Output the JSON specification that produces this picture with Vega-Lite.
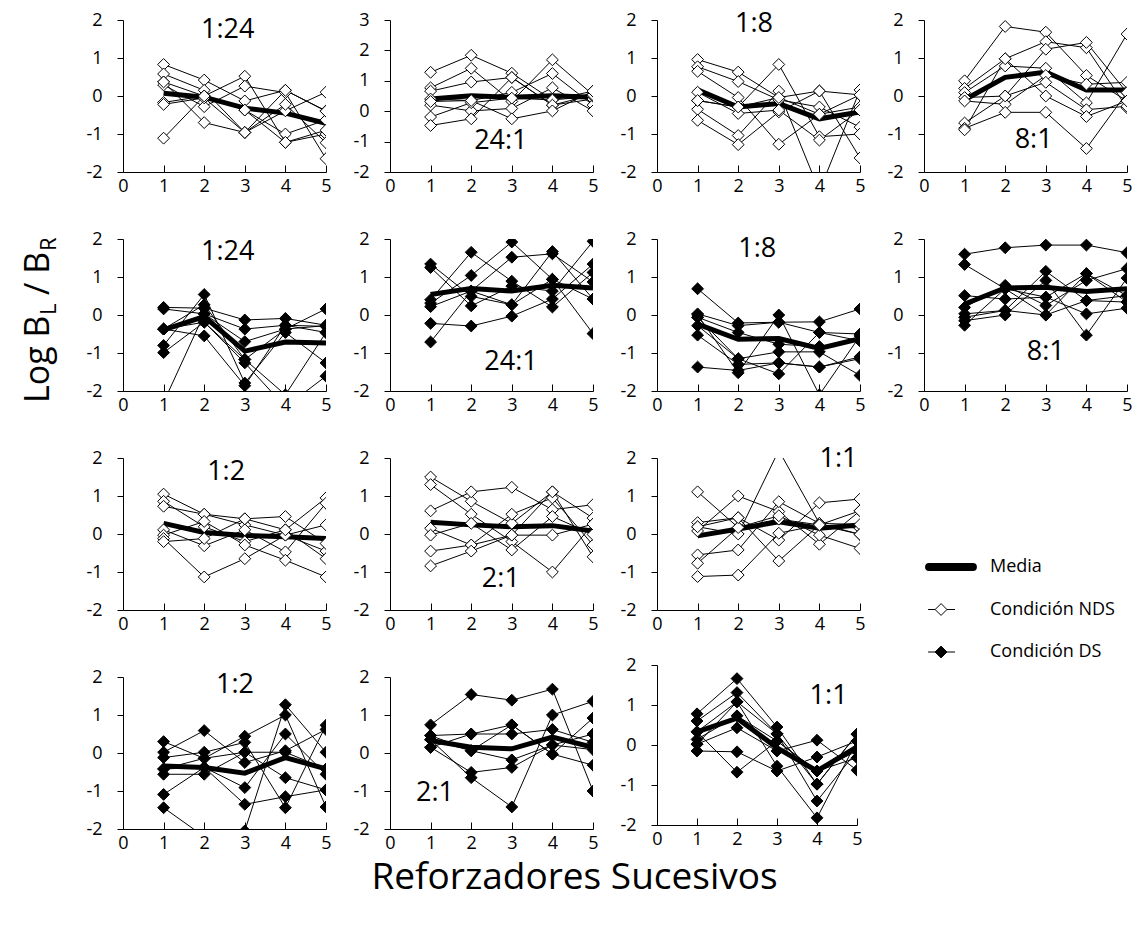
{
"$schema":"https://vega.github.io/schema/vega-lite/v6.json",
"background":"white",
"padding":{"left":17,"top":10,"right":5,"bottom":8},
"title":{"text":"Reforzadores Sucesivos","orient":"bottom","anchor":"middle","fontSize":37,"font":"Open Sans","fontWeight":"normal","color":"black","offset":8},
"datasets":{
"A":[
{"s":"a","x":1,"y":0.83},{"s":"a","x":2,"y":0.42},{"s":"a","x":3,"y":-0.13},{"s":"a","x":4,"y":0.15},{"s":"a","x":5,"y":-0.39},
{"s":"b","x":1,"y":0.58},{"s":"b","x":2,"y":0.15},{"s":"b","x":3,"y":-0.96},{"s":"b","x":4,"y":-0.39},{"s":"b","x":5,"y":0.1},
{"s":"c","x":1,"y":0.37},{"s":"c","x":2,"y":0},{"s":"c","x":3,"y":0.52},{"s":"c","x":4,"y":-1.22},{"s":"c","x":5,"y":-1},
{"s":"d","x":1,"y":0.29},{"s":"d","x":2,"y":-0.28},{"s":"d","x":3,"y":0.26},{"s":"d","x":4,"y":0.09},{"s":"d","x":5,"y":-1.65},
{"s":"e","x":1,"y":-0.17},{"s":"e","x":2,"y":0},{"s":"e","x":3,"y":-0.37},{"s":"e","x":4,"y":-1},{"s":"e","x":5,"y":-0.63},
{"s":"f","x":1,"y":-0.22},{"s":"f","x":2,"y":-0.05},{"s":"f","x":3,"y":-0.96},{"s":"f","x":4,"y":-0.22},{"s":"f","x":5,"y":-1.23},
{"s":"g","x":1,"y":-1.11},{"s":"g","x":2,"y":0},{"s":"g","x":3,"y":-0.37},{"s":"g","x":4,"y":-1.22},{"s":"g","x":5,"y":-0.9},
{"s":"h","x":1,"y":0.37},{"s":"h","x":2,"y":-0.7},{"s":"h","x":3,"y":-0.96},{"s":"h","x":4,"y":0.15},{"s":"h","x":5,"y":-0.4},
{"s":"m","x":1,"y":0.07},{"s":"m","x":2,"y":-0.03},{"s":"m","x":3,"y":-0.32},{"s":"m","x":4,"y":-0.45},{"s":"m","x":5,"y":-0.72}],
"B":[
{"s":"a","x":1,"y":1.28},{"s":"a","x":2,"y":1.84},{"s":"a","x":3,"y":1.25},{"s":"a","x":4,"y":0.37},{"s":"a","x":5,"y":0.66},
{"s":"b","x":1,"y":0.77},{"s":"b","x":2,"y":1.41},{"s":"b","x":3,"y":0.32},{"s":"b","x":4,"y":1.69},{"s":"b","x":5,"y":0.54},
{"s":"c","x":1,"y":0.66},{"s":"c","x":2,"y":0.96},{"s":"c","x":3,"y":1.11},{"s":"c","x":4,"y":0.2},{"s":"c","x":5,"y":0.4},
{"s":"d","x":1,"y":0.4},{"s":"d","x":2,"y":0.35},{"s":"d","x":3,"y":0.62},{"s":"d","x":4,"y":1.24},{"s":"d","x":5,"y":0.2},
{"s":"e","x":1,"y":0.2},{"s":"e","x":2,"y":0.01},{"s":"e","x":3,"y":0.09},{"s":"e","x":4,"y":0.77},{"s":"e","x":5,"y":0.01},
{"s":"f","x":1,"y":-0.19},{"s":"f","x":2,"y":0.28},{"s":"f","x":3,"y":0.43},{"s":"f","x":4,"y":0.37},{"s":"f","x":5,"y":0.49},
{"s":"g","x":1,"y":-0.47},{"s":"g","x":2,"y":-0.25},{"s":"g","x":3,"y":1.11},{"s":"g","x":4,"y":0.2},{"s":"g","x":5,"y":0.54},
{"s":"h","x":1,"y":0.32},{"s":"h","x":2,"y":0.35},{"s":"h","x":3,"y":-0.25},{"s":"h","x":4,"y":0.01},{"s":"h","x":5,"y":0.66},
{"s":"m","x":1,"y":0.4},{"s":"m","x":2,"y":0.51},{"s":"m","x":3,"y":0.46},{"s":"m","x":4,"y":0.51},{"s":"m","x":5,"y":0.46}],
"C":[
{"s":"a","x":1,"y":0.96},{"s":"a","x":2,"y":0.63},{"s":"a","x":3,"y":-0.04},{"s":"a","x":4,"y":0.13},{"s":"a","x":5,"y":0.03},
{"s":"b","x":1,"y":0.77},{"s":"b","x":2,"y":0.38},{"s":"b","x":3,"y":-0.1},{"s":"b","x":4,"y":-0.29},{"s":"b","x":5,"y":-0.82},
{"s":"c","x":1,"y":0.65},{"s":"c","x":2,"y":-0.04},{"s":"c","x":3,"y":-1.27},{"s":"c","x":4,"y":-0.48},{"s":"c","x":5,"y":-0.29},
{"s":"d","x":1,"y":-0.12},{"s":"d","x":2,"y":-0.29},{"s":"d","x":3,"y":0.83},{"s":"d","x":4,"y":-1.07},{"s":"d","x":5,"y":-1},
{"s":"e","x":1,"y":-0.35},{"s":"e","x":2,"y":-1.04},{"s":"e","x":3,"y":0.13},{"s":"e","x":4,"y":-2.5},{"s":"e","x":5,"y":0.16},
{"s":"f","x":1,"y":-0.64},{"s":"f","x":2,"y":-1.28},{"s":"f","x":3,"y":-0.42},{"s":"f","x":4,"y":0.13},{"s":"f","x":5,"y":-1.63},
{"s":"g","x":1,"y":0.1},{"s":"g","x":2,"y":-0.46},{"s":"g","x":3,"y":-0.37},{"s":"g","x":4,"y":-1.16},{"s":"g","x":5,"y":-0.37},
{"s":"h","x":1,"y":-0.12},{"s":"h","x":2,"y":-0.29},{"s":"h","x":3,"y":-0.04},{"s":"h","x":4,"y":-0.48},{"s":"h","x":5,"y":0.03},
{"s":"m","x":1,"y":0.16},{"s":"m","x":2,"y":-0.29},{"s":"m","x":3,"y":-0.2},{"s":"m","x":4,"y":-0.6},{"s":"m","x":5,"y":-0.42}],
"D":[
{"s":"a","x":1,"y":0.4},{"s":"a","x":2,"y":1.83},{"s":"a","x":3,"y":1.68},{"s":"a","x":4,"y":0.54},{"s":"a","x":5,"y":-0.13},
{"s":"b","x":1,"y":0.2},{"s":"b","x":2,"y":0.98},{"s":"b","x":3,"y":1.43},{"s":"b","x":4,"y":1.27},{"s":"b","x":5,"y":-0.31},
{"s":"c","x":1,"y":0.09},{"s":"c","x":2,"y":0.79},{"s":"c","x":3,"y":0.73},{"s":"c","x":4,"y":-0.18},{"s":"c","x":5,"y":1.63},
{"s":"d","x":1,"y":-0.04},{"s":"d","x":2,"y":0},{"s":"d","x":3,"y":1.23},{"s":"d","x":4,"y":1.41},{"s":"d","x":5,"y":0.09},
{"s":"e","x":1,"y":-0.13},{"s":"e","x":2,"y":-0.22},{"s":"e","x":3,"y":0.54},{"s":"e","x":4,"y":0.31},{"s":"e","x":5,"y":0.36},
{"s":"f","x":1,"y":-0.71},{"s":"f","x":2,"y":0},{"s":"f","x":3,"y":0.36},{"s":"f","x":4,"y":-0.36},{"s":"f","x":5,"y":-0.27},
{"s":"g","x":1,"y":-0.85},{"s":"g","x":2,"y":-0.43},{"s":"g","x":3,"y":-0.43},{"s":"g","x":4,"y":-1.38},{"s":"g","x":5,"y":0.09},
{"s":"h","x":1,"y":-0.89},{"s":"h","x":2,"y":0.98},{"s":"h","x":3,"y":0},{"s":"h","x":4,"y":-0.54},{"s":"h","x":5,"y":-0.13},
{"s":"m","x":1,"y":-0.1},{"s":"m","x":2,"y":0.49},{"s":"m","x":3,"y":0.63},{"s":"m","x":4,"y":0.16},{"s":"m","x":5,"y":0.16}],
"E":[
{"s":"a","x":1,"y":0.2},{"s":"a","x":2,"y":0.18},{"s":"a","x":3,"y":-0.13},{"s":"a","x":4,"y":-0.09},{"s":"a","x":5,"y":-0.27},
{"s":"b","x":1,"y":0.16},{"s":"b","x":2,"y":0.03},{"s":"b","x":3,"y":-0.37},{"s":"b","x":4,"y":-0.27},{"s":"b","x":5,"y":-0.46},
{"s":"c","x":1,"y":-0.37},{"s":"c","x":2,"y":0.27},{"s":"c","x":3,"y":-1.17},{"s":"c","x":4,"y":-0.37},{"s":"c","x":5,"y":-0.28},
{"s":"d","x":1,"y":-0.8},{"s":"d","x":2,"y":0.54},{"s":"d","x":3,"y":-1.79},{"s":"d","x":4,"y":-0.46},{"s":"d","x":5,"y":-1.26},
{"s":"e","x":1,"y":-0.99},{"s":"e","x":2,"y":-0.19},{"s":"e","x":3,"y":-1.26},{"s":"e","x":4,"y":-2.42},{"s":"e","x":5,"y":-1.61},
{"s":"f","x":1,"y":-2.3},{"s":"f","x":2,"y":0.03},{"s":"f","x":3,"y":-0.7},{"s":"f","x":4,"y":-0.37},{"s":"f","x":5,"y":0.16},
{"s":"g","x":1,"y":-0.37},{"s":"g","x":2,"y":-0.55},{"s":"g","x":3,"y":-1.86},{"s":"g","x":4,"y":-0.27},{"s":"g","x":5,"y":-0.3},
{"s":"h","x":1,"y":-0.37},{"s":"h","x":2,"y":-0.19},{"s":"h","x":3,"y":-1.17},{"s":"h","x":4,"y":-2.1},{"s":"h","x":5,"y":-0.46},
{"s":"m","x":1,"y":-0.39},{"s":"m","x":2,"y":-0.04},{"s":"m","x":3,"y":-0.95},{"s":"m","x":4,"y":-0.71},{"s":"m","x":5,"y":-0.74}],
"F":[
{"s":"a","x":1,"y":1.34},{"s":"a","x":2,"y":0.49},{"s":"a","x":3,"y":0.27},{"s":"a","x":4,"y":1.67},{"s":"a","x":5,"y":0.42},
{"s":"b","x":1,"y":1.25},{"s":"b","x":2,"y":0.24},{"s":"b","x":3,"y":0.76},{"s":"b","x":4,"y":0.63},{"s":"b","x":5,"y":1.94},
{"s":"c","x":1,"y":0.4},{"s":"c","x":2,"y":1.65},{"s":"c","x":3,"y":0.89},{"s":"c","x":4,"y":0.21},{"s":"c","x":5,"y":1.12},
{"s":"d","x":1,"y":0.31},{"s":"d","x":2,"y":1.04},{"s":"d","x":3,"y":1.92},{"s":"d","x":4,"y":0.94},{"s":"d","x":5,"y":-0.49},
{"s":"e","x":1,"y":0.22},{"s":"e","x":2,"y":0.63},{"s":"e","x":3,"y":1.52},{"s":"e","x":4,"y":1.61},{"s":"e","x":5,"y":0.87},
{"s":"f","x":1,"y":-0.22},{"s":"f","x":2,"y":-0.29},{"s":"f","x":3,"y":-0.03},{"s":"f","x":4,"y":0.42},{"s":"f","x":5,"y":1.34},
{"s":"g","x":1,"y":-0.71},{"s":"g","x":2,"y":0.63},{"s":"g","x":3,"y":0.27},{"s":"g","x":4,"y":0.94},{"s":"g","x":5,"y":0.42},
{"s":"m","x":1,"y":0.54},{"s":"m","x":2,"y":0.7},{"s":"m","x":3,"y":0.63},{"s":"m","x":4,"y":0.78},{"s":"m","x":5,"y":0.71}],
"G":[
{"s":"a","x":1,"y":0.69},{"s":"a","x":2,"y":-0.21},{"s":"a","x":3,"y":-0.19},{"s":"a","x":4,"y":-0.18},{"s":"a","x":5,"y":0.16},
{"s":"b","x":1,"y":0.03},{"s":"b","x":2,"y":-0.28},{"s":"b","x":3,"y":-0.19},{"s":"b","x":4,"y":-0.46},{"s":"b","x":5,"y":-0.5},
{"s":"c","x":1,"y":-0.06},{"s":"c","x":2,"y":-0.46},{"s":"c","x":3,"y":-0.77},{"s":"c","x":4,"y":-0.83},{"s":"c","x":5,"y":-0.68},
{"s":"d","x":1,"y":-0.28},{"s":"d","x":2,"y":-1.15},{"s":"d","x":3,"y":-0.97},{"s":"d","x":4,"y":-0.97},{"s":"d","x":5,"y":-1.59},
{"s":"e","x":1,"y":-0.53},{"s":"e","x":2,"y":-1.3},{"s":"e","x":3,"y":-1.26},{"s":"e","x":4,"y":-1.37},{"s":"e","x":5,"y":-1.15},
{"s":"f","x":1,"y":-1.37},{"s":"f","x":2,"y":-1.46},{"s":"f","x":3,"y":-1.26},{"s":"f","x":4,"y":-1.37},{"s":"f","x":5,"y":-1.1},
{"s":"g","x":1,"y":0},{"s":"g","x":2,"y":-1.52},{"s":"g","x":3,"y":0},{"s":"g","x":4,"y":-2.1},{"s":"g","x":5,"y":-0.55},
{"s":"h","x":1,"y":-0.06},{"s":"h","x":2,"y":-1.15},{"s":"h","x":3,"y":-1.55},{"s":"h","x":4,"y":-0.46},{"s":"h","x":5,"y":-0.68},
{"s":"m","x":1,"y":-0.24},{"s":"m","x":2,"y":-0.64},{"s":"m","x":3,"y":-0.62},{"s":"m","x":4,"y":-0.88},{"s":"m","x":5,"y":-0.62}],
"H":[
{"s":"a","x":1,"y":1.6},{"s":"a","x":2,"y":1.77},{"s":"a","x":3,"y":1.84},{"s":"a","x":4,"y":1.84},{"s":"a","x":5,"y":1.64},
{"s":"b","x":1,"y":1.33},{"s":"b","x":2,"y":0.69},{"s":"b","x":3,"y":0},{"s":"b","x":4,"y":1.09},{"s":"b","x":5,"y":0.51},
{"s":"c","x":1,"y":0.51},{"s":"c","x":2,"y":0.42},{"s":"c","x":3,"y":0.47},{"s":"c","x":4,"y":0.03},{"s":"c","x":5,"y":0.18},
{"s":"d","x":1,"y":0.2},{"s":"d","x":2,"y":0.78},{"s":"d","x":3,"y":0.25},{"s":"d","x":4,"y":0.91},{"s":"d","x":5,"y":1.22},
{"s":"e","x":1,"y":0.03},{"s":"e","x":2,"y":0.12},{"s":"e","x":3,"y":1.15},{"s":"e","x":4,"y":0.38},{"s":"e","x":5,"y":0.34},
{"s":"f","x":1,"y":-0.15},{"s":"f","x":2,"y":0},{"s":"f","x":3,"y":0.91},{"s":"f","x":4,"y":-0.53},{"s":"f","x":5,"y":0.97},
{"s":"g","x":1,"y":-0.27},{"s":"g","x":2,"y":0.69},{"s":"g","x":3,"y":0.47},{"s":"g","x":4,"y":1.09},{"s":"g","x":5,"y":0.34},
{"s":"h","x":1,"y":-0.06},{"s":"h","x":2,"y":0.12},{"s":"h","x":3,"y":0},{"s":"h","x":4,"y":0.38},{"s":"h","x":5,"y":0.51},
{"s":"m","x":1,"y":0.29},{"s":"m","x":2,"y":0.71},{"s":"m","x":3,"y":0.73},{"s":"m","x":4,"y":0.62},{"s":"m","x":5,"y":0.69}],
"I":[
{"s":"a","x":1,"y":1.05},{"s":"a","x":2,"y":0.52},{"s":"a","x":3,"y":0.24},{"s":"a","x":4,"y":-0.03},{"s":"a","x":5,"y":-0.45},
{"s":"b","x":1,"y":0.86},{"s":"b","x":2,"y":0.19},{"s":"b","x":3,"y":-0.2},{"s":"b","x":4,"y":0.11},{"s":"b","x":5,"y":0.95},
{"s":"c","x":1,"y":0.73},{"s":"c","x":2,"y":0.52},{"s":"c","x":3,"y":0.4},{"s":"c","x":4,"y":0.46},{"s":"c","x":5,"y":-0.25},
{"s":"d","x":1,"y":0.11},{"s":"d","x":2,"y":-0.31},{"s":"d","x":3,"y":0.11},{"s":"d","x":4,"y":-0.47},{"s":"d","x":5,"y":0.81},
{"s":"e","x":1,"y":-0.03},{"s":"e","x":2,"y":0.33},{"s":"e","x":3,"y":-0.29},{"s":"e","x":4,"y":-0.69},{"s":"e","x":5,"y":-1.13},
{"s":"f","x":1,"y":-0.12},{"s":"f","x":2,"y":-1.13},{"s":"f","x":3,"y":-0.65},{"s":"f","x":4,"y":-0.03},{"s":"f","x":5,"y":0.24},
{"s":"g","x":1,"y":-0.2},{"s":"g","x":2,"y":-0.12},{"s":"g","x":3,"y":0.4},{"s":"g","x":4,"y":0.11},{"s":"g","x":5,"y":-0.65},
{"s":"m","x":1,"y":0.28},{"s":"m","x":2,"y":0.04},{"s":"m","x":3,"y":-0.04},{"s":"m","x":4,"y":-0.07},{"s":"m","x":5,"y":-0.12}],
"J":[
{"s":"a","x":1,"y":1.5},{"s":"a","x":2,"y":0.86},{"s":"a","x":3,"y":0.28},{"s":"a","x":4,"y":1.11},{"s":"a","x":5,"y":0.42},
{"s":"b","x":1,"y":1.3},{"s":"b","x":2,"y":0.52},{"s":"b","x":3,"y":-0.2},{"s":"b","x":4,"y":-1},{"s":"b","x":5,"y":0.26},
{"s":"c","x":1,"y":0.61},{"s":"c","x":2,"y":1.11},{"s":"c","x":3,"y":1.23},{"s":"c","x":4,"y":0.64},{"s":"c","x":5,"y":0.77},
{"s":"d","x":1,"y":0.15},{"s":"d","x":2,"y":-0.29},{"s":"d","x":3,"y":0.52},{"s":"d","x":4,"y":0.95},{"s":"d","x":5,"y":-0.29},
{"s":"e","x":1,"y":-0.03},{"s":"e","x":2,"y":0.28},{"s":"e","x":3,"y":-0.42},{"s":"e","x":4,"y":0.46},{"s":"e","x":5,"y":-0.01},
{"s":"f","x":1,"y":-0.45},{"s":"f","x":2,"y":-0.29},{"s":"f","x":3,"y":-0.03},{"s":"f","x":4,"y":1.11},{"s":"f","x":5,"y":-0.6},
{"s":"g","x":1,"y":-0.84},{"s":"g","x":2,"y":-0.45},{"s":"g","x":3,"y":-0.03},{"s":"g","x":4,"y":-0.03},{"s":"g","x":5,"y":0.26},
{"s":"m","x":1,"y":0.31},{"s":"m","x":2,"y":0.24},{"s":"m","x":3,"y":0.19},{"s":"m","x":4,"y":0.22},{"s":"m","x":5,"y":0.08}],
"K":[
{"s":"a","x":1,"y":1.11},{"s":"a","x":2,"y":0.17},{"s":"a","x":3,"y":0.39},{"s":"a","x":4,"y":0.24},{"s":"a","x":5,"y":0.15},
{"s":"b","x":1,"y":0.3},{"s":"b","x":2,"y":0.43},{"s":"b","x":3,"y":-0.16},{"s":"b","x":4,"y":0.82},{"s":"b","x":5,"y":0.92},
{"s":"c","x":1,"y":0.19},{"s":"c","x":2,"y":0},{"s":"c","x":3,"y":2.2},{"s":"c","x":4,"y":0.28},{"s":"c","x":5,"y":-0.01},
{"s":"d","x":1,"y":0.08},{"s":"d","x":2,"y":1},{"s":"d","x":3,"y":0.59},{"s":"d","x":4,"y":-0.27},{"s":"d","x":5,"y":0.61},
{"s":"e","x":1,"y":-0.55},{"s":"e","x":2,"y":-0.42},{"s":"e","x":3,"y":0.85},{"s":"e","x":4,"y":0.28},{"s":"e","x":5,"y":0.25},
{"s":"f","x":1,"y":-0.77},{"s":"f","x":2,"y":0.17},{"s":"f","x":3,"y":0.48},{"s":"f","x":4,"y":-0.03},{"s":"f","x":5,"y":-0.38},
{"s":"g","x":1,"y":-1.12},{"s":"g","x":2,"y":-1.08},{"s":"g","x":3,"y":0.02},{"s":"g","x":4,"y":0.24},{"s":"g","x":5,"y":0.61},
{"s":"h","x":1,"y":0.19},{"s":"h","x":2,"y":0.43},{"s":"h","x":3,"y":-0.71},{"s":"h","x":4,"y":0.24},{"s":"h","x":5,"y":-0.01},
{"s":"m","x":1,"y":-0.05},{"s":"m","x":2,"y":0.13},{"s":"m","x":3,"y":0.32},{"s":"m","x":4,"y":0.15},{"s":"m","x":5,"y":0.24}],
"L":[
{"s":"a","x":1,"y":0.3},{"s":"a","x":2,"y":-0.14},{"s":"a","x":3,"y":0.44},{"s":"a","x":4,"y":1},{"s":"a","x":5,"y":-1.42},
{"s":"b","x":1,"y":0.02},{"s":"b","x":2,"y":0.59},{"s":"b","x":3,"y":-0.25},{"s":"b","x":4,"y":0.06},{"s":"b","x":5,"y":0.62},
{"s":"c","x":1,"y":-0.12},{"s":"c","x":2,"y":0.02},{"s":"c","x":3,"y":0.28},{"s":"c","x":4,"y":-1.44},{"s":"c","x":5,"y":0.73},
{"s":"d","x":1,"y":-0.42},{"s":"d","x":2,"y":-0.38},{"s":"d","x":3,"y":-0.91},{"s":"d","x":4,"y":0.5},{"s":"d","x":5,"y":-0.56},
{"s":"e","x":1,"y":-0.56},{"s":"e","x":2,"y":-0.56},{"s":"e","x":3,"y":0.02},{"s":"e","x":4,"y":-0.65},{"s":"e","x":5,"y":-0.97},
{"s":"f","x":1,"y":-1.09},{"s":"f","x":2,"y":-0.38},{"s":"f","x":3,"y":-1.35},{"s":"f","x":4,"y":-1.15},{"s":"f","x":5,"y":-0.97},
{"s":"g","x":1,"y":-1.44},{"s":"g","x":2,"y":-2.2},{"s":"g","x":3,"y":-2.05},{"s":"g","x":4,"y":1.27},{"s":"g","x":5,"y":0.02},
{"s":"h","x":1,"y":-0.42},{"s":"h","x":2,"y":-0.14},{"s":"h","x":3,"y":0.02},{"s":"h","x":4,"y":0.02},{"s":"h","x":5,"y":-0.42},
{"s":"m","x":1,"y":-0.34},{"s":"m","x":2,"y":-0.38},{"s":"m","x":3,"y":-0.53},{"s":"m","x":4,"y":-0.12},{"s":"m","x":5,"y":-0.42}],
"M":[
{"s":"a","x":1,"y":0.74},{"s":"a","x":2,"y":1.54},{"s":"a","x":3,"y":1.39},{"s":"a","x":4,"y":1.68},{"s":"a","x":5,"y":-1},
{"s":"b","x":1,"y":0.46},{"s":"b","x":2,"y":0.5},{"s":"b","x":3,"y":0.5},{"s":"b","x":4,"y":0.62},{"s":"b","x":5,"y":0.28},
{"s":"c","x":1,"y":0.35},{"s":"c","x":2,"y":0.06},{"s":"c","x":3,"y":0.74},{"s":"c","x":4,"y":-0.03},{"s":"c","x":5,"y":0.92},
{"s":"d","x":1,"y":0.15},{"s":"d","x":2,"y":-0.51},{"s":"d","x":3,"y":-0.38},{"s":"d","x":4,"y":0.21},{"s":"d","x":5,"y":0.5},
{"s":"e","x":1,"y":0.35},{"s":"e","x":2,"y":-0.65},{"s":"e","x":3,"y":-1.42},{"s":"e","x":4,"y":1},{"s":"e","x":5,"y":1.36},
{"s":"f","x":1,"y":0.46},{"s":"f","x":2,"y":0.06},{"s":"f","x":3,"y":-0.18},{"s":"f","x":4,"y":0.21},{"s":"f","x":5,"y":0.09},
{"s":"g","x":1,"y":0.15},{"s":"g","x":2,"y":0.5},{"s":"g","x":3,"y":0.74},{"s":"g","x":4,"y":-0.03},{"s":"g","x":5,"y":-0.32},
{"s":"m","x":1,"y":0.33},{"s":"m","x":2,"y":0.15},{"s":"m","x":3,"y":0.11},{"s":"m","x":4,"y":0.42},{"s":"m","x":5,"y":0.15}],
"N":[
{"s":"a","x":1,"y":0.78},{"s":"a","x":2,"y":1.66},{"s":"a","x":3,"y":0.45},{"s":"a","x":4,"y":-0.98},{"s":"a","x":5,"y":0.27},
{"s":"b","x":1,"y":0.6},{"s":"b","x":2,"y":1.31},{"s":"b","x":3,"y":0.28},{"s":"b","x":4,"y":-1.4},{"s":"b","x":5,"y":-0.15},
{"s":"c","x":1,"y":0.33},{"s":"c","x":2,"y":1.08},{"s":"c","x":3,"y":-0.53},{"s":"c","x":4,"y":-1.82},{"s":"c","x":5,"y":0.1},
{"s":"d","x":1,"y":0.14},{"s":"d","x":2,"y":0.73},{"s":"d","x":3,"y":0.1},{"s":"d","x":4,"y":-0.65},{"s":"d","x":5,"y":-0.32},
{"s":"e","x":1,"y":0.02},{"s":"e","x":2,"y":0.43},{"s":"e","x":3,"y":-0.15},{"s":"e","x":4,"y":0.12},{"s":"e","x":5,"y":-0.63},
{"s":"f","x":1,"y":-0.15},{"s":"f","x":2,"y":-0.17},{"s":"f","x":3,"y":-0.65},{"s":"f","x":4,"y":-0.3},{"s":"f","x":5,"y":0.1},
{"s":"g","x":1,"y":0.33},{"s":"g","x":2,"y":-0.68},{"s":"g","x":3,"y":0.1},{"s":"g","x":4,"y":-0.65},{"s":"g","x":5,"y":-0.15},
{"s":"h","x":1,"y":0.02},{"s":"h","x":2,"y":1.08},{"s":"h","x":3,"y":0.28},{"s":"h","x":4,"y":-0.98},{"s":"h","x":5,"y":0.27},
{"s":"m","x":1,"y":0.33},{"s":"m","x":2,"y":0.67},{"s":"m","x":3,"y":-0.07},{"s":"m","x":4,"y":-0.65},{"s":"m","x":5,"y":-0.05}]
},
"spacing":20,
"hconcat":[
{"width":48,"height":600,"data":{"values":[{}]},
 "layer":[
  {"mark":{"type":"text","text":"Log B","angle":270,"align":"left","baseline":"alphabetic","fontSize":34,"font":"Open Sans","color":"black","dx":-83,"dy":8},"encoding":{}},
  {"mark":{"type":"text","text":"L","angle":270,"align":"left","baseline":"alphabetic","fontSize":22,"font":"Open Sans","color":"black","dx":5,"dy":15},"encoding":{}},
  {"mark":{"type":"text","text":"/ B","angle":270,"align":"left","baseline":"alphabetic","fontSize":34,"font":"Open Sans","color":"black","dx":25,"dy":8},"encoding":{}},
  {"mark":{"type":"text","text":"R","angle":270,"align":"left","baseline":"alphabetic","fontSize":22,"font":"Open Sans","color":"black","dx":69,"dy":15},"encoding":{}}
 ]},
{"vconcat":[
 {"width":203,"height":152,"encoding":{"x":{"field":"x","type":"quantitative","scale":{"domain":[0,5],"nice":false,"zero":false},"axis":{"values":[0,1,2,3,4,5]},"title":null},"y":{"field":"y","type":"quantitative","scale":{"domain":[-2,2],"nice":false,"zero":false},"axis":{"values":[-2,-1,0,1,2],"labelExpr":"''+datum.value"},"title":null}},
  "layer":[
  {"data":{"values":[{}]},"mark":{"type":"rule","color":"black","strokeWidth":1,"strokeDash":[2,2]},"encoding":{"x":{"datum":0},"x2":{"datum":5.45},"y":{"datum":0}}},
  {"data":{"name":"A"},"transform":[{"filter":"datum.s!='m'"}],"mark":{"type":"line","color":"black","strokeWidth":1,"clip":true},"encoding":{"detail":{"field":"s"}}},
  {"data":{"name":"A"},"transform":[{"filter":"datum.s=='m'"}],"mark":{"type":"line","color":"black","strokeWidth":5,"clip":true}},
  {"data":{"name":"A"},"transform":[{"filter":"datum.s!='m'"}],"mark":{"type":"point","shape":"diamond","size":140,"filled":true,"fill":"white","stroke":"black","strokeWidth":1,"opacity":1,"clip":true}},
  {"data":{"values":[{"x":2.58,"y":1.75,"t":"1:24"}]},"mark":{"type":"text","fontSize":27,"font":"Open Sans","color":"black"},"encoding":{"text":{"field":"t"}}}
 ]},
 {"width":203,"height":152,"encoding":{"x":{"field":"x","type":"quantitative","scale":{"domain":[0,5],"nice":false,"zero":false},"axis":{"values":[0,1,2,3,4,5]},"title":null},"y":{"field":"y","type":"quantitative","scale":{"domain":[-2,2],"nice":false,"zero":false},"axis":{"values":[-2,-1,0,1,2],"labelExpr":"''+datum.value"},"title":null}},
  "layer":[
  {"data":{"values":[{}]},"mark":{"type":"rule","color":"black","strokeWidth":1,"strokeDash":[2,2]},"encoding":{"x":{"datum":0},"x2":{"datum":5.45},"y":{"datum":0}}},
  {"data":{"name":"E"},"transform":[{"filter":"datum.s!='m'"}],"mark":{"type":"line","color":"black","strokeWidth":1,"clip":true},"encoding":{"detail":{"field":"s"}}},
  {"data":{"name":"E"},"transform":[{"filter":"datum.s=='m'"}],"mark":{"type":"line","color":"black","strokeWidth":5,"clip":true}},
  {"data":{"name":"E"},"transform":[{"filter":"datum.s!='m'"}],"mark":{"type":"point","shape":"diamond","size":140,"filled":true,"fill":"black","stroke":"black","strokeWidth":1,"opacity":1,"clip":true}},
  {"data":{"values":[{"x":2.58,"y":1.65,"t":"1:24"}]},"mark":{"type":"text","fontSize":27,"font":"Open Sans","color":"black"},"encoding":{"text":{"field":"t"}}}
 ]},
 {"width":203,"height":152,"encoding":{"x":{"field":"x","type":"quantitative","scale":{"domain":[0,5],"nice":false,"zero":false},"axis":{"values":[0,1,2,3,4,5]},"title":null},"y":{"field":"y","type":"quantitative","scale":{"domain":[-2,2],"nice":false,"zero":false},"axis":{"values":[-2,-1,0,1,2],"labelExpr":"''+datum.value"},"title":null}},
  "layer":[
  {"data":{"values":[{}]},"mark":{"type":"rule","color":"black","strokeWidth":1,"strokeDash":[2,2]},"encoding":{"x":{"datum":0},"x2":{"datum":5.45},"y":{"datum":0}}},
  {"data":{"name":"I"},"transform":[{"filter":"datum.s!='m'"}],"mark":{"type":"line","color":"black","strokeWidth":1,"clip":true},"encoding":{"detail":{"field":"s"}}},
  {"data":{"name":"I"},"transform":[{"filter":"datum.s=='m'"}],"mark":{"type":"line","color":"black","strokeWidth":5,"clip":true}},
  {"data":{"name":"I"},"transform":[{"filter":"datum.s!='m'"}],"mark":{"type":"point","shape":"diamond","size":140,"filled":true,"fill":"white","stroke":"black","strokeWidth":1,"opacity":1,"clip":true}},
  {"data":{"values":[{"x":2.54,"y":1.62,"t":"1:2"}]},"mark":{"type":"text","fontSize":27,"font":"Open Sans","color":"black"},"encoding":{"text":{"field":"t"}}}
 ]},
 {"width":203,"height":152,"encoding":{"x":{"field":"x","type":"quantitative","scale":{"domain":[0,5],"nice":false,"zero":false},"axis":{"values":[0,1,2,3,4,5]},"title":null},"y":{"field":"y","type":"quantitative","scale":{"domain":[-2,2],"nice":false,"zero":false},"axis":{"values":[-2,-1,0,1,2],"labelExpr":"''+datum.value"},"title":null}},
  "layer":[
  {"data":{"values":[{}]},"mark":{"type":"rule","color":"black","strokeWidth":1,"strokeDash":[2,2]},"encoding":{"x":{"datum":0},"x2":{"datum":5.45},"y":{"datum":0}}},
  {"data":{"name":"L"},"transform":[{"filter":"datum.s!='m'"}],"mark":{"type":"line","color":"black","strokeWidth":1,"clip":true},"encoding":{"detail":{"field":"s"}}},
  {"data":{"name":"L"},"transform":[{"filter":"datum.s=='m'"}],"mark":{"type":"line","color":"black","strokeWidth":5,"clip":true}},
  {"data":{"name":"L"},"transform":[{"filter":"datum.s!='m'"}],"mark":{"type":"point","shape":"diamond","size":140,"filled":true,"fill":"black","stroke":"black","strokeWidth":1,"opacity":1,"clip":true}},
  {"data":{"values":[{"x":2.76,"y":1.79,"t":"1:2"}]},"mark":{"type":"text","fontSize":27,"font":"Open Sans","color":"black"},"encoding":{"text":{"field":"t"}}}
 ]}
],"spacing":67,"bounds":"flush"},
{"vconcat":[
 {"width":203,"height":152,"encoding":{"x":{"field":"x","type":"quantitative","scale":{"domain":[0,5],"nice":false,"zero":false},"axis":{"values":[0,1,2,3,4,5]},"title":null},"y":{"field":"y","type":"quantitative","scale":{"domain":[-2,3],"nice":false,"zero":false},"axis":{"values":[-2,-1,0,1,2,3],"labelExpr":"''+datum.value"},"title":null}},
  "layer":[
  {"data":{"values":[{}]},"mark":{"type":"rule","color":"black","strokeWidth":1,"strokeDash":[2,2]},"encoding":{"x":{"datum":0},"x2":{"datum":5.45},"y":{"datum":0.5}}},
  {"data":{"name":"B"},"transform":[{"filter":"datum.s!='m'"}],"mark":{"type":"line","color":"black","strokeWidth":1,"clip":true},"encoding":{"detail":{"field":"s"}}},
  {"data":{"name":"B"},"transform":[{"filter":"datum.s=='m'"}],"mark":{"type":"line","color":"black","strokeWidth":5,"clip":true}},
  {"data":{"name":"B"},"transform":[{"filter":"datum.s!='m'"}],"mark":{"type":"point","shape":"diamond","size":140,"filled":true,"fill":"white","stroke":"black","strokeWidth":1,"opacity":1,"clip":true}},
  {"data":{"values":[{"x":2.73,"y":-0.98,"t":"24:1"}]},"mark":{"type":"text","fontSize":27,"font":"Open Sans","color":"black"},"encoding":{"text":{"field":"t"}}}
 ]},
 {"width":203,"height":152,"encoding":{"x":{"field":"x","type":"quantitative","scale":{"domain":[0,5],"nice":false,"zero":false},"axis":{"values":[0,1,2,3,4,5]},"title":null},"y":{"field":"y","type":"quantitative","scale":{"domain":[-2,2],"nice":false,"zero":false},"axis":{"values":[-2,-1,0,1,2],"labelExpr":"''+datum.value"},"title":null}},
  "layer":[
  {"data":{"values":[{}]},"mark":{"type":"rule","color":"black","strokeWidth":1,"strokeDash":[2,2]},"encoding":{"x":{"datum":0},"x2":{"datum":5.45},"y":{"datum":0}}},
  {"data":{"name":"F"},"transform":[{"filter":"datum.s!='m'"}],"mark":{"type":"line","color":"black","strokeWidth":1,"clip":true},"encoding":{"detail":{"field":"s"}}},
  {"data":{"name":"F"},"transform":[{"filter":"datum.s=='m'"}],"mark":{"type":"line","color":"black","strokeWidth":5,"clip":true}},
  {"data":{"name":"F"},"transform":[{"filter":"datum.s!='m'"}],"mark":{"type":"point","shape":"diamond","size":140,"filled":true,"fill":"black","stroke":"black","strokeWidth":1,"opacity":1,"clip":true}},
  {"data":{"values":[{"x":2.98,"y":-1.23,"t":"24:1"}]},"mark":{"type":"text","fontSize":27,"font":"Open Sans","color":"black"},"encoding":{"text":{"field":"t"}}}
 ]},
 {"width":203,"height":152,"encoding":{"x":{"field":"x","type":"quantitative","scale":{"domain":[0,5],"nice":false,"zero":false},"axis":{"values":[0,1,2,3,4,5]},"title":null},"y":{"field":"y","type":"quantitative","scale":{"domain":[-2,2],"nice":false,"zero":false},"axis":{"values":[-2,-1,0,1,2],"labelExpr":"''+datum.value"},"title":null}},
  "layer":[
  {"data":{"values":[{}]},"mark":{"type":"rule","color":"black","strokeWidth":1,"strokeDash":[2,2]},"encoding":{"x":{"datum":0},"x2":{"datum":5.45},"y":{"datum":0}}},
  {"data":{"name":"J"},"transform":[{"filter":"datum.s!='m'"}],"mark":{"type":"line","color":"black","strokeWidth":1,"clip":true},"encoding":{"detail":{"field":"s"}}},
  {"data":{"name":"J"},"transform":[{"filter":"datum.s=='m'"}],"mark":{"type":"line","color":"black","strokeWidth":5,"clip":true}},
  {"data":{"name":"J"},"transform":[{"filter":"datum.s!='m'"}],"mark":{"type":"point","shape":"diamond","size":140,"filled":true,"fill":"white","stroke":"black","strokeWidth":1,"opacity":1,"clip":true}},
  {"data":{"values":[{"x":2.73,"y":-1.18,"t":"2:1"}]},"mark":{"type":"text","fontSize":27,"font":"Open Sans","color":"black"},"encoding":{"text":{"field":"t"}}}
 ]},
 {"width":203,"height":152,"encoding":{"x":{"field":"x","type":"quantitative","scale":{"domain":[0,5],"nice":false,"zero":false},"axis":{"values":[0,1,2,3,4,5]},"title":null},"y":{"field":"y","type":"quantitative","scale":{"domain":[-2,2],"nice":false,"zero":false},"axis":{"values":[-2,-1,0,1,2],"labelExpr":"''+datum.value"},"title":null}},
  "layer":[
  {"data":{"values":[{}]},"mark":{"type":"rule","color":"black","strokeWidth":1,"strokeDash":[2,2]},"encoding":{"x":{"datum":0},"x2":{"datum":5.45},"y":{"datum":0}}},
  {"data":{"name":"M"},"transform":[{"filter":"datum.s!='m'"}],"mark":{"type":"line","color":"black","strokeWidth":1,"clip":true},"encoding":{"detail":{"field":"s"}}},
  {"data":{"name":"M"},"transform":[{"filter":"datum.s=='m'"}],"mark":{"type":"line","color":"black","strokeWidth":5,"clip":true}},
  {"data":{"name":"M"},"transform":[{"filter":"datum.s!='m'"}],"mark":{"type":"point","shape":"diamond","size":140,"filled":true,"fill":"black","stroke":"black","strokeWidth":1,"opacity":1,"clip":true}},
  {"data":{"values":[{"x":1.11,"y":-1.04,"t":"2:1"}]},"mark":{"type":"text","fontSize":27,"font":"Open Sans","color":"black"},"encoding":{"text":{"field":"t"}}}
 ]}
],"spacing":67,"bounds":"flush"},
{"vconcat":[
 {"vconcat":[
 {"width":203,"height":152,"encoding":{"x":{"field":"x","type":"quantitative","scale":{"domain":[0,5],"nice":false,"zero":false},"axis":{"values":[0,1,2,3,4,5]},"title":null},"y":{"field":"y","type":"quantitative","scale":{"domain":[-2,2],"nice":false,"zero":false},"axis":{"values":[-2,-1,0,1,2],"labelExpr":"''+datum.value"},"title":null}},
  "layer":[
  {"data":{"values":[{}]},"mark":{"type":"rule","color":"black","strokeWidth":1,"strokeDash":[2,2]},"encoding":{"x":{"datum":0},"x2":{"datum":5.45},"y":{"datum":0}}},
  {"data":{"name":"C"},"transform":[{"filter":"datum.s!='m'"}],"mark":{"type":"line","color":"black","strokeWidth":1,"clip":true},"encoding":{"detail":{"field":"s"}}},
  {"data":{"name":"C"},"transform":[{"filter":"datum.s=='m'"}],"mark":{"type":"line","color":"black","strokeWidth":5,"clip":true}},
  {"data":{"name":"C"},"transform":[{"filter":"datum.s!='m'"}],"mark":{"type":"point","shape":"diamond","size":140,"filled":true,"fill":"white","stroke":"black","strokeWidth":1,"opacity":1,"clip":true}},
  {"data":{"values":[{"x":2.39,"y":1.89,"t":"1:8"}]},"mark":{"type":"text","fontSize":27,"font":"Open Sans","color":"black"},"encoding":{"text":{"field":"t"}}}
 ]},
 {"width":203,"height":152,"encoding":{"x":{"field":"x","type":"quantitative","scale":{"domain":[0,5],"nice":false,"zero":false},"axis":{"values":[0,1,2,3,4,5]},"title":null},"y":{"field":"y","type":"quantitative","scale":{"domain":[-2,2],"nice":false,"zero":false},"axis":{"values":[-2,-1,0,1,2],"labelExpr":"''+datum.value"},"title":null}},
  "layer":[
  {"data":{"values":[{}]},"mark":{"type":"rule","color":"black","strokeWidth":1,"strokeDash":[2,2]},"encoding":{"x":{"datum":0},"x2":{"datum":5.45},"y":{"datum":0}}},
  {"data":{"name":"G"},"transform":[{"filter":"datum.s!='m'"}],"mark":{"type":"line","color":"black","strokeWidth":1,"clip":true},"encoding":{"detail":{"field":"s"}}},
  {"data":{"name":"G"},"transform":[{"filter":"datum.s=='m'"}],"mark":{"type":"line","color":"black","strokeWidth":5,"clip":true}},
  {"data":{"name":"G"},"transform":[{"filter":"datum.s!='m'"}],"mark":{"type":"point","shape":"diamond","size":140,"filled":true,"fill":"black","stroke":"black","strokeWidth":1,"opacity":1,"clip":true}},
  {"data":{"values":[{"x":2.47,"y":1.74,"t":"1:8"}]},"mark":{"type":"text","fontSize":27,"font":"Open Sans","color":"black"},"encoding":{"text":{"field":"t"}}}
 ]},
 {"width":203,"height":152,"encoding":{"x":{"field":"x","type":"quantitative","scale":{"domain":[0,5],"nice":false,"zero":false},"axis":{"values":[0,1,2,3,4,5]},"title":null},"y":{"field":"y","type":"quantitative","scale":{"domain":[-2,2],"nice":false,"zero":false},"axis":{"values":[-2,-1,0,1,2],"labelExpr":"''+datum.value"},"title":null}},
  "layer":[
  {"data":{"values":[{}]},"mark":{"type":"rule","color":"black","strokeWidth":1,"strokeDash":[2,2]},"encoding":{"x":{"datum":0},"x2":{"datum":5.45},"y":{"datum":0}}},
  {"data":{"name":"K"},"transform":[{"filter":"datum.s!='m'"}],"mark":{"type":"line","color":"black","strokeWidth":1,"clip":true},"encoding":{"detail":{"field":"s"}}},
  {"data":{"name":"K"},"transform":[{"filter":"datum.s=='m'"}],"mark":{"type":"line","color":"black","strokeWidth":5,"clip":true}},
  {"data":{"name":"K"},"transform":[{"filter":"datum.s!='m'"}],"mark":{"type":"point","shape":"diamond","size":140,"filled":true,"fill":"white","stroke":"black","strokeWidth":1,"opacity":1,"clip":true}},
  {"data":{"values":[{"x":4.47,"y":1.97,"t":"1:1"}]},"mark":{"type":"text","fontSize":27,"font":"Open Sans","color":"black"},"encoding":{"text":{"field":"t"}}}
 ]}
 ],"spacing":67,"bounds":"flush"},
 {"width":200,"height":160,"encoding":{"x":{"field":"x","type":"quantitative","scale":{"domain":[0,5],"nice":false,"zero":false},"axis":{"values":[0,1,2,3,4,5]},"title":null},"y":{"field":"y","type":"quantitative","scale":{"domain":[-2,2],"nice":false,"zero":false},"axis":{"values":[-2,-1,0,1,2],"labelExpr":"''+datum.value"},"title":null}},
  "layer":[
  {"data":{"values":[{}]},"mark":{"type":"rule","color":"black","strokeWidth":1,"strokeDash":[2,2]},"encoding":{"x":{"datum":0},"x2":{"datum":5.4},"y":{"datum":0}}},
  {"data":{"name":"N"},"transform":[{"filter":"datum.s!='m'"}],"mark":{"type":"line","color":"black","strokeWidth":1,"clip":true},"encoding":{"detail":{"field":"s"}}},
  {"data":{"name":"N"},"transform":[{"filter":"datum.s=='m'"}],"mark":{"type":"line","color":"black","strokeWidth":5,"clip":true}},
  {"data":{"name":"N"},"transform":[{"filter":"datum.s!='m'"}],"mark":{"type":"point","shape":"diamond","size":140,"filled":true,"fill":"black","stroke":"black","strokeWidth":1,"opacity":1,"clip":true}},
  {"data":{"values":[{"x":4.29,"y":1.23,"t":"1:1"}]},"mark":{"type":"text","fontSize":27,"font":"Open Sans","color":"black"},"encoding":{"text":{"field":"t"}}}
 ]}
],"spacing":23},
{"vconcat":[
 {"width":203,"height":152,"encoding":{"x":{"field":"x","type":"quantitative","scale":{"domain":[0,5],"nice":false,"zero":false},"axis":{"values":[0,1,2,3,4,5]},"title":null},"y":{"field":"y","type":"quantitative","scale":{"domain":[-2,2],"nice":false,"zero":false},"axis":{"values":[-2,-1,0,1,2],"labelExpr":"''+datum.value"},"title":null}},
  "layer":[
  {"data":{"values":[{}]},"mark":{"type":"rule","color":"black","strokeWidth":1,"strokeDash":[2,2]},"encoding":{"x":{"datum":0},"x2":{"datum":5.2},"y":{"datum":0}}},
  {"data":{"name":"D"},"transform":[{"filter":"datum.s!='m'"}],"mark":{"type":"line","color":"black","strokeWidth":1,"clip":true},"encoding":{"detail":{"field":"s"}}},
  {"data":{"name":"D"},"transform":[{"filter":"datum.s=='m'"}],"mark":{"type":"line","color":"black","strokeWidth":5,"clip":true}},
  {"data":{"name":"D"},"transform":[{"filter":"datum.s!='m'"}],"mark":{"type":"point","shape":"diamond","size":140,"filled":true,"fill":"white","stroke":"black","strokeWidth":1,"opacity":1,"clip":true}},
  {"data":{"values":[{"x":2.7,"y":-1.16,"t":"8:1"}]},"mark":{"type":"text","fontSize":27,"font":"Open Sans","color":"black"},"encoding":{"text":{"field":"t"}}}
 ]},
 {"width":203,"height":152,"encoding":{"x":{"field":"x","type":"quantitative","scale":{"domain":[0,5],"nice":false,"zero":false},"axis":{"values":[0,1,2,3,4,5]},"title":null},"y":{"field":"y","type":"quantitative","scale":{"domain":[-2,2],"nice":false,"zero":false},"axis":{"values":[-2,-1,0,1,2],"labelExpr":"''+datum.value"},"title":null}},
  "layer":[
  {"data":{"values":[{}]},"mark":{"type":"rule","color":"black","strokeWidth":1,"strokeDash":[2,2]},"encoding":{"x":{"datum":0},"x2":{"datum":5.2},"y":{"datum":0}}},
  {"data":{"name":"H"},"transform":[{"filter":"datum.s!='m'"}],"mark":{"type":"line","color":"black","strokeWidth":1,"clip":true},"encoding":{"detail":{"field":"s"}}},
  {"data":{"name":"H"},"transform":[{"filter":"datum.s=='m'"}],"mark":{"type":"line","color":"black","strokeWidth":5,"clip":true}},
  {"data":{"name":"H"},"transform":[{"filter":"datum.s!='m'"}],"mark":{"type":"point","shape":"diamond","size":140,"filled":true,"fill":"black","stroke":"black","strokeWidth":1,"opacity":1,"clip":true}},
  {"data":{"values":[{"x":3.0,"y":-0.98,"t":"8:1"}]},"mark":{"type":"text","fontSize":27,"font":"Open Sans","color":"black"},"encoding":{"text":{"field":"t"}}}
 ]},
 {"width":203,"height":200,
  "data":{"values":[{"k":"Media","i":0},{"k":"Condición NDS","i":1},{"k":"Condición DS","i":2}]},
  "encoding":{"y":{"field":"i","type":"quantitative","scale":{"domain":[-2.565,2.141],"reverse":true,"nice":false,"zero":false},"axis":null}},
  "layer":[
   {"transform":[{"filter":"datum.i==0"}],"mark":{"type":"rule","strokeWidth":8,"strokeCap":"round","color":"black"},"encoding":{"x":{"datum":0.25,"type":"quantitative","scale":{"domain":[0,10]},"axis":null},"x2":{"datum":2.41}}},
   {"transform":[{"filter":"datum.i>0"}],"mark":{"type":"rule","strokeWidth":1,"color":"black"},"encoding":{"x":{"datum":0.2,"type":"quantitative","scale":{"domain":[0,10]},"axis":null},"x2":{"datum":1.53}}},
   {"transform":[{"filter":"datum.i==1"}],"mark":{"type":"point","shape":"diamond","size":140,"filled":true,"fill":"white","stroke":"black","strokeWidth":1,"opacity":1},"encoding":{"x":{"datum":0.84,"type":"quantitative","scale":{"domain":[0,10]},"axis":null}}},
   {"transform":[{"filter":"datum.i==2"}],"mark":{"type":"point","shape":"diamond","size":140,"filled":true,"fill":"black","stroke":"black","strokeWidth":1,"opacity":1},"encoding":{"x":{"datum":0.84,"type":"quantitative","scale":{"domain":[0,10]},"axis":null}}},
   {"mark":{"type":"text","align":"left","baseline":"middle","fontSize":18,"font":"Open Sans","color":"black"},"encoding":{"x":{"datum":3.25,"type":"quantitative","scale":{"domain":[0,10]},"axis":null},"text":{"field":"k"}}}
  ]}
],"spacing":67,"bounds":"flush"}
],
"config":{
 "view":{"stroke":null},
 "font":"Open Sans",
 "axis":{"labelFont":"Open Sans","labelFontSize":18,"labelColor":"black","domainColor":"black","tickColor":"black","domainWidth":1,"tickWidth":1,"grid":false,"labelOverlap":false},
 "axisX":{"tickSize":-7,"labelPadding":12,"labelFlush":false},
 "axisY":{"tickSize":6,"labelPadding":15}
}
}
